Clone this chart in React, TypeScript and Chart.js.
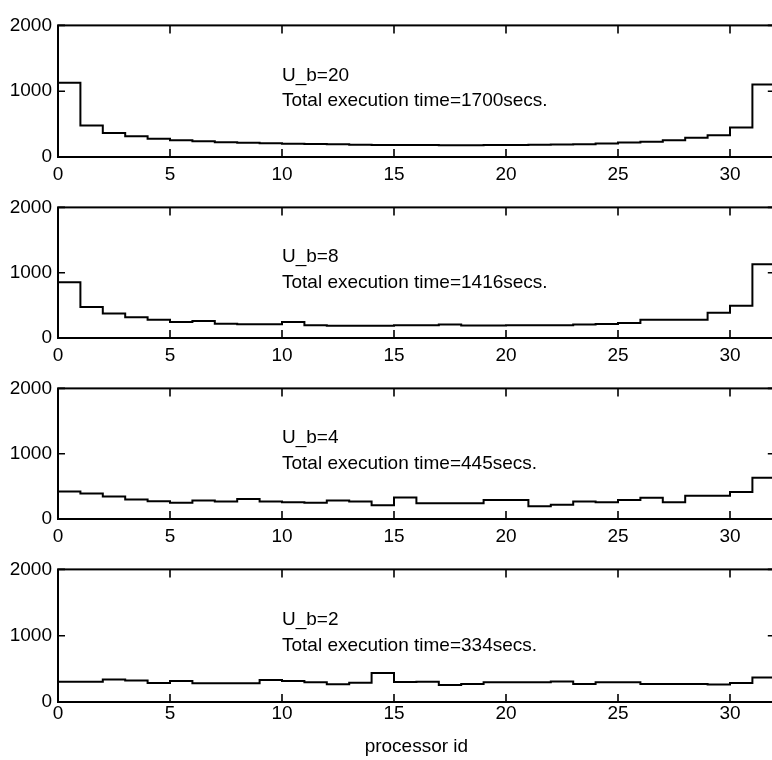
import React, { useEffect, useRef } from 'react';
import { Chart, registerables } from 'chart.js';

Chart.register(...registerables);

// ---- data ----
const processorIds = [0, 1, 2, 3, 4, 5, 6, 7, 8, 9, 10, 11, 12, 13, 14, 15, 16, 17, 18, 19, 20, 21, 22, 23, 24, 25, 26, 27, 28, 29, 30, 31, 32];
const xTickValues = [0, 5, 10, 15, 20, 25, 30];
const yTickValues = [0, 1000, 2000];

const ub20Times = [1130, 478, 366, 317, 278, 254, 239, 226, 215, 208, 202, 198, 192, 188, 184, 182, 181, 180, 180, 181, 182, 185, 190, 193, 205, 220, 230, 255, 293, 332, 450, 1100];
const ub8Times = [854, 473, 376, 317, 278, 246, 259, 220, 210, 210, 244, 195, 188, 186, 186, 195, 195, 207, 190, 190, 195, 195, 195, 205, 215, 228, 278, 278, 278, 385, 495, 1130];
const ub4Times = [423, 389, 345, 297, 272, 248, 282, 268, 307, 268, 258, 248, 282, 268, 209, 331, 243, 243, 243, 292, 292, 195, 219, 268, 258, 292, 326, 258, 355, 355, 414, 633];
const ub2Times = [307, 307, 341, 326, 287, 316, 282, 282, 282, 331, 316, 297, 268, 292, 438, 300, 307, 258, 272, 297, 297, 297, 311, 272, 297, 297, 272, 272, 272, 263, 287, 370];

const ubLabels = ['U_b=20', 'U_b=8', 'U_b=4', 'U_b=2'];
const totalLabels = [
  'Total execution time=1700secs.',
  'Total execution time=1416secs.',
  'Total execution time=445secs.',
  'Total execution time=334secs.',
];
const xAxisTitle = 'processor id';

// ---- layout / style ----
const FONT = '"Liberation Sans", Arial, Helvetica, sans-serif';
const FONT_SIZE = 19;
const CANVAS_W = 800;
const PLOT_LEFT = 58;
const PLOT_RIGHT = 774.8;
const PAD_TOP = 12;
const TEXT_X = 10;
const TEXT_Y1 = 1157;
const TEXT_Y2 = 773;

const seriesList = [ub20Times, ub8Times, ub4Times, ub2Times];
const panelLayout = [
  { plotTop: 20, plotH: 137, axisH: 30, tickPad: 6, showTitle: false },
  { plotTop: 202, plotH: 136, axisH: 30, tickPad: 6, showTitle: false },
  { plotTop: 383, plotH: 136, axisH: 30, tickPad: 6, showTitle: false },
  { plotTop: 564, plotH: 138, axisH: 58, tickPad: 0, showTitle: true },
];

function makeFramePlugin(idx: number) {
  return {
    id: 'frame' + idx,
    afterDraw(chart: any) {
      const { ctx, chartArea } = chart;
      const xs = chart.scales.x;
      const ys = chart.scales.y;
      const { left, right, top, bottom } = chartArea;
      ctx.save();
      ctx.strokeStyle = '#000';
      ctx.lineWidth = 2;
      ctx.strokeRect(left, top, right - left, bottom - top);
      ctx.lineWidth = 1.6;
      ctx.beginPath();
      xTickValues.forEach((v) => {
        const px = xs.getPixelForValue(v);
        ctx.moveTo(px, bottom);
        ctx.lineTo(px, bottom - 8);
        ctx.moveTo(px, top);
        ctx.lineTo(px, top + 8);
      });
      yTickValues.forEach((v) => {
        const py = ys.getPixelForValue(v);
        ctx.moveTo(left, py);
        ctx.lineTo(left + 7, py);
        ctx.moveTo(right, py);
        ctx.lineTo(right - 7, py);
      });
      ctx.stroke();
      ctx.fillStyle = '#000';
      ctx.font = `${FONT_SIZE}px ${FONT}`;
      ctx.textAlign = 'left';
      ctx.textBaseline = 'alphabetic';
      const tx = xs.getPixelForValue(TEXT_X);
      ctx.fillText(ubLabels[idx], tx, ys.getPixelForValue(TEXT_Y1));
      ctx.fillText(totalLabels[idx], tx, ys.getPixelForValue(TEXT_Y2));
      ctx.restore();
    },
  };
}

export default function App() {
  const r0 = useRef<HTMLCanvasElement>(null);
  const r1 = useRef<HTMLCanvasElement>(null);
  const r2 = useRef<HTMLCanvasElement>(null);
  const r3 = useRef<HTMLCanvasElement>(null);
  const refs = [r0, r1, r2, r3];

  useEffect(() => {
    const charts = panelLayout.map((p, i) => {
      const values = seriesList[i];
      const canvas = refs[i].current as HTMLCanvasElement;
      return new Chart(canvas, {
        type: 'line',
        data: {
          datasets: [
            {
              data: processorIds.map((x, k) => ({ x, y: values[Math.min(k, values.length - 1)] })),
              stepped: 'before',
              borderColor: '#000',
              borderWidth: 2,
              pointRadius: 0,
              fill: false,
              tension: 0,
            },
          ],
        },
        options: {
          animation: false,
          responsive: false,
          devicePixelRatio: 1,
          layout: { padding: { top: PAD_TOP, right: CANVAS_W - PLOT_RIGHT, left: 0, bottom: 0 } },
          plugins: { legend: { display: false }, tooltip: { enabled: false }, title: { display: false } },
          scales: {
            x: {
              type: 'linear',
              min: 0,
              max: 32,
              afterBuildTicks: (s: any) => {
                s.ticks = xTickValues.map((v) => ({ value: v }));
              },
              afterFit: (s: any) => {
                s.height = p.axisH;
              },
              grid: { display: false, drawTicks: false },
              border: { display: false },
              ticks: {
                padding: p.tickPad,
                color: '#000',
                font: { family: FONT, size: FONT_SIZE },
                maxRotation: 0,
                autoSkip: false,
                callback: (v: any) => String(v),
              },
              title: {
                display: p.showTitle,
                text: xAxisTitle,
                color: '#000',
                font: { family: FONT, size: FONT_SIZE },
                padding: { top: 0, bottom: 2 },
              },
            },
            y: {
              type: 'linear',
              min: 0,
              max: 2000,
              afterBuildTicks: (s: any) => {
                s.ticks = yTickValues.map((v) => ({ value: v }));
              },
              afterFit: (s: any) => {
                s.width = PLOT_LEFT;
              },
              grid: { display: false, drawTicks: false },
              border: { display: false },
              ticks: {
                padding: 6,
                color: '#000',
                font: { family: FONT, size: FONT_SIZE },
                callback: (v: any) => String(v),
              },
            },
          },
        },
        plugins: [makeFramePlugin(i)],
      } as any);
    });
    return () => charts.forEach((c) => c.destroy());
  }, []);

  return (
    <div style={{ position: 'absolute', left: 0, top: 0, width: 772, height: 760, overflow: 'hidden', background: '#fff' }}>
      {panelLayout.map((p, i) => {
        const h = PAD_TOP + p.plotH + p.axisH;
        return (
          <canvas
            key={i}
            ref={refs[i]}
            width={CANVAS_W}
            height={h}
            style={{ position: 'absolute', left: 0, top: p.plotTop - PAD_TOP, width: CANVAS_W, height: h }}
          />
        );
      })}
    </div>
  );
}
